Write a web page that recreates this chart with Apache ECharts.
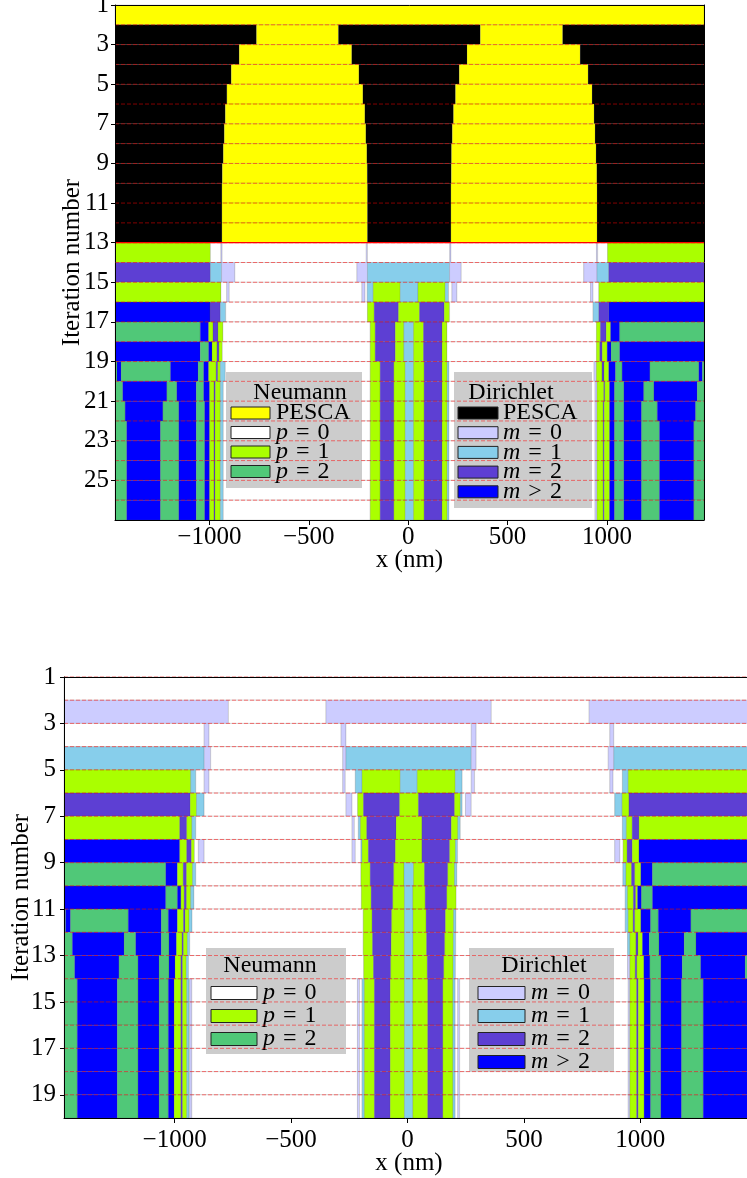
<!DOCTYPE html>
<html><head><meta charset="utf-8">
<script src="https://cdn.jsdelivr.net/npm/echarts@6/dist/echarts.min.js"></script>
<style>html,body{margin:0;padding:0;background:#fff}#c{width:747px;height:1178px}</style>
</head><body><div id="c"></div><script>
// ---------- data ----------
const X_MIN = -1475, X_MAX = 1488;
const xTicks = [-1000, -500, 0, 500, 1000];
const topYTicks = [1, 3, 5, 7, 9, 11, 13, 15, 17, 19, 21, 23, 25];
const bottomYTicks = [1, 3, 5, 7, 9, 11, 13, 15, 17, 19];
const topDashed = [2,3,4,5,6,7,8,9,10,11,12,13,14,15,16,17,18,19,20,21,22,23,24,25,26];
const topSolid = [13];
const bottomDashed = [1,2,3,4,5,6,7,8,9,10,11,12,13,14,15,16,17,18,19];
const categories = ['Y', 'K', 'p0', 'p1', 'p2', 'm0', 'm1', 'm2', 'm3'];

// each row: alternating [category, segment end x (nm)], starting at X_MIN; row k = iteration k+1
const topRows = [
 ['Y',1488],
 ['K',-763,'Y',-351,'K',363,'Y',777,'K',1488],
 ['K',-850,'Y',-284,'K',296,'Y',865,'K',1488],
 ['K',-890,'Y',-248,'K',257,'Y',905,'K',1488],
 ['K',-912,'Y',-228,'K',238,'Y',925,'K',1488],
 ['K',-920,'Y',-218,'K',228,'Y',935,'K',1488],
 ['K',-925,'Y',-213,'K',222,'Y',940,'K',1488],
 ['K',-930,'Y',-208,'K',218,'Y',945,'K',1488],
 ['K',-935,'Y',-206,'K',217,'Y',949,'K',1488],
 ['K',-937,'Y',-205,'K',215,'Y',950,'K',1488],
 ['K',-937,'Y',-205,'K',215,'Y',950,'K',1488],
 ['K',-937,'Y',-205,'K',215,'Y',950,'K',1488],
 ['p1',-995,'p0',-942,'m0',-936,'p0',-211,'m0',-205,'p0',209,'m0',215,'p0',947,'m0',953,'p0',1003,'p1',1488],
 ['m2',-995,'m1',-939,'m0',-872,'p0',-258,'m0',-205,'m1',208,'m0',267,'p0',883,'m0',950,'m1',1009,'m2',1488],
 ['p1',-942,'p0',-913,'m0',-900,'p0',-233,'m0',-217,'p0',-206,'m1',-176,'p1',-40,'m1',49,'p1',186,'m1',203,'p0',220,'m0',245,'p0',917,'m0',930,'p0',959,'p1',1488],
 ['m3',-997,'m2',-945,'m1',-918,'p0',-205,'p1',-171,'m2',-49,'p1',57,'m2',181,'p1',208,'p0',930,'m1',959,'m2',1009,'m3',1488],
 ['p2',-1046,'m3',-1004,'p1',-982,'m2',-957,'p1',-932,'p0',-191,'p1',-166,'m2',-65,'p1',-22,'m1',27,'p1',77,'m2',170,'p1',195,'p0',947,'p1',967,'m2',996,'p1',1018,'m3',1064,'p2',1488],
 ['m3',-1046,'p2',-1004,'m3',-987,'p1',-962,'m2',-952,'p1',-935,'p0',-191,'p1',-166,'m2',-65,'p1',-22,'m1',27,'p1',77,'m2',170,'p1',195,'p0',947,'p1',964,'m2',976,'p1',1001,'m3',1021,'p2',1064,'m3',1488],
 ['p2',-1465,'m3',-1444,'p2',-1196,'m3',-1057,'p2',-1029,'m3',-1004,'p1',-966,'m2',-958,'p1',-945,'m1',-920,'p0',-191,'p1',-141,'m2',-72,'p1',-15,'m1',27,'p1',80,'m2',170,'p1',196,'m1',205,'p0',935,'m0',947,'p1',975,'m2',985,'p1',1009,'m3',1043,'p2',1076,'m3',1216,'p2',1462,'m3',1480,'p2',1488],
 ['p2',-1436,'m3',-1214,'p2',-1164,'m3',-1066,'p2',-1029,'m3',-999,'p1',-977,'m2',-970,'p1',-945,'m1',-930,'p0',-191,'p1',-141,'m2',-72,'p1',-15,'m1',27,'p1',80,'m2',170,'p1',196,'m1',205,'p0',940,'m0',950,'p1',984,'m2',989,'p1',1013,'m3',1038,'p2',1085,'m3',1185,'p2',1236,'m3',1454,'p2',1488],
 ['p2',-1424,'m3',-1234,'p2',-1154,'m3',-1066,'p2',-1024,'m3',-999,'p1',-977,'m2',-972,'p1',-945,'m1',-930,'p0',-191,'p1',-141,'m2',-72,'p1',-15,'m1',27,'p1',80,'m2',170,'p1',196,'m1',205,'p0',940,'m0',950,'p1',981,'m2',986,'p1',1013,'m3',1038,'p2',1085,'m3',1174,'p2',1253,'m3',1446,'p2',1488],
 ['p2',-1416,'m3',-1246,'p2',-1154,'m3',-1066,'p2',-1024,'m3',-999,'p1',-977,'m2',-972,'p1',-945,'m1',-930,'p0',-191,'p1',-141,'m2',-72,'p1',-15,'m1',27,'p1',80,'m2',170,'p1',196,'m1',205,'p0',940,'m0',950,'p1',981,'m2',986,'p1',1013,'m3',1038,'p2',1085,'m3',1174,'p2',1264,'m3',1437,'p2',1488],
 ['p2',-1416,'m3',-1246,'p2',-1154,'m3',-1066,'p2',-1024,'m3',-999,'p1',-977,'m2',-972,'p1',-945,'m1',-930,'p0',-191,'p1',-141,'m2',-72,'p1',-15,'m1',27,'p1',80,'m2',170,'p1',196,'m1',205,'p0',940,'m0',950,'p1',981,'m2',986,'p1',1013,'m3',1038,'p2',1085,'m3',1174,'p2',1264,'m3',1437,'p2',1488],
 ['p2',-1416,'m3',-1246,'p2',-1154,'m3',-1066,'p2',-1024,'m3',-999,'p1',-977,'m2',-972,'p1',-945,'m1',-930,'p0',-191,'p1',-141,'m2',-72,'p1',-15,'m1',27,'p1',80,'m2',170,'p1',196,'m1',205,'p0',940,'m0',950,'p1',981,'m2',986,'p1',1013,'m3',1038,'p2',1085,'m3',1174,'p2',1264,'m3',1437,'p2',1488],
 ['p2',-1416,'m3',-1246,'p2',-1154,'m3',-1066,'p2',-1024,'m3',-999,'p1',-977,'m2',-972,'p1',-945,'m1',-930,'p0',-191,'p1',-141,'m2',-72,'p1',-15,'m1',27,'p1',80,'m2',170,'p1',196,'m1',205,'p0',940,'m0',950,'p1',981,'m2',986,'p1',1013,'m3',1038,'p2',1085,'m3',1174,'p2',1264,'m3',1437,'p2',1488],
 ['p2',-1416,'m3',-1246,'p2',-1154,'m3',-1066,'p2',-1024,'m3',-999,'p1',-977,'m2',-972,'p1',-945,'m1',-930,'p0',-191,'p1',-141,'m2',-72,'p1',-15,'m1',27,'p1',80,'m2',170,'p1',196,'m1',205,'p0',940,'m0',950,'p1',981,'m2',986,'p1',1013,'m3',1038,'p2',1085,'m3',1174,'p2',1264,'m3',1437,'p2',1488]
];

const bottomRows = [
 ['p0',1488],
 ['m0',-769,'p0',-350,'m0',360,'p0',780,'m0',1488],
 ['p0',-873,'m0',-852,'p0',-285,'m0',-264,'p0',274,'m0',295,'p0',869,'m0',886,'p0',1488],
 ['m1',-873,'m0',-845,'p0',-278,'m0',-264,'m1',274,'m0',295,'p0',862,'m0',886,'m1',1488],
 ['p1',-931,'m1',-909,'p0',-873,'m0',-852,'p0',-278,'m0',-267,'p0',-224,'m1',-195,'p1',-31,'m1',42,'p1',205,'m1',235,'p0',274,'m0',288,'p0',869,'m0',883,'p0',923,'m1',948,'p1',1488],
 ['m2',-933,'p1',-906,'m1',-873,'p0',-264,'m0',-238,'p0',-214,'p1',-189,'m2',-34,'p1',47,'m2',202,'p1',227,'m1',235,'p0',249,'m0',274,'p0',890,'m1',922,'p1',951,'m2',1488],
 ['p1',-978,'m2',-948,'p1',-926,'m1',-909,'p0',-238,'m0',-228,'p0',-211,'m1',-202,'p1',-175,'m2',-49,'p1',62,'m2',188,'p1',216,'m1',227,'p0',923,'m1',940,'p1',965,'m2',994,'p1',1488],
 ['m3',-978,'p1',-948,'m2',-928,'p1',-915,'p0',-898,'m0',-873,'p0',-238,'m0',-224,'p0',-200,'m1',-195,'p1',-168,'m2',-52,'p1',62,'m2',181,'p1',206,'m1',215,'p0',890,'m0',912,'p0',926,'p1',943,'m2',965,'p1',994,'m3',1488],
 ['p2',-1038,'m3',-988,'p1',-963,'m2',-949,'p1',-923,'m1',-909,'p0',-200,'p1',-160,'m2',-59,'p1',-15,'m1',26,'p1',73,'m2',173,'p1',202,'m1',212,'p0',925,'m1',938,'p1',962,'m2',976,'p1',1002,'m3',1052,'p2',1488],
 ['m3',-1038,'p2',-988,'m3',-973,'p1',-959,'m2',-949,'p1',-931,'m1',-917,'p0',-198,'p1',-156,'m2',-63,'p1',-13,'m1',23,'p1',76,'m2',169,'p1',209,'p0',935,'m1',945,'p1',970,'m2',980,'p1',988,'m3',1005,'p2',1052,'m3',1488],
 ['p2',-1468,'m3',-1447,'p2',-1199,'m3',-1057,'p2',-1027,'m3',-988,'p1',-962,'m2',-955,'p1',-938,'m1',-925,'p0',-190,'p1',-152,'m2',-68,'p1',-13,'m1',24,'p1',80,'m2',163,'p1',198,'m1',208,'p0',935,'m1',948,'p1',969,'m2',976,'p1',1002,'m3',1044,'p2',1077,'m3',1217,'p2',1488],
 ['p2',-1439,'m3',-1217,'p2',-1167,'m3',-1057,'p2',-1024,'m3',-992,'p1',-968,'m2',-962,'p1',-945,'m1',-935,'p0',-190,'p1',-150,'m2',-70,'p1',-13,'m1',24,'p1',82,'m2',160,'p1',197,'m1',207,'p0',945,'m1',955,'p1',981,'m2',990,'p1',1009,'m3',1038,'p2',1080,'m3',1188,'p2',1239,'m3',1488],
 ['p2',-1429,'m3',-1239,'p2',-1157,'m3',-1067,'p2',-1024,'m3',-998,'p1',-973,'m2',-966,'p1',-950,'m1',-940,'p0',-188,'p1',-146,'m2',-72,'p1',-13,'m1',23,'p1',85,'m2',156,'p1',196,'m1',206,'p0',945,'m0',955,'p1',978,'m2',985,'p1',1015,'m3',1041,'p2',1088,'m3',1180,'p2',1259,'m3',1450,'p2',1488],
 ['p2',-1418,'m3',-1246,'p2',-1157,'m3',-1067,'p2',-1027,'m3',-1002,'p1',-973,'m2',-966,'p1',-948,'m1',-938,'p0',-935,'m0',-926,'p0',-215,'m0',-206,'p0',-195,'m1',-185,'p1',-142,'m2',-74,'p1',-13,'m1',23,'p1',87,'m2',152,'p1',195,'m1',205,'p0',216,'m0',224,'p0',948,'m0',955,'p1',984,'m2',991,'p1',1016,'m3',1044,'p2',1088,'m3',1177,'p2',1270,'m3',1488],
 ['p2',-1418,'m3',-1246,'p2',-1157,'m3',-1067,'p2',-1027,'m3',-1002,'p1',-973,'m2',-966,'p1',-948,'m1',-938,'p0',-935,'m0',-926,'p0',-215,'m0',-206,'p0',-195,'m1',-185,'p1',-142,'m2',-74,'p1',-13,'m1',23,'p1',87,'m2',152,'p1',195,'m1',205,'p0',216,'m0',224,'p0',948,'m0',955,'p1',984,'m2',991,'p1',1016,'m3',1044,'p2',1088,'m3',1177,'p2',1270,'m3',1488],
 ['p2',-1418,'m3',-1246,'p2',-1157,'m3',-1067,'p2',-1027,'m3',-1002,'p1',-973,'m2',-966,'p1',-948,'m1',-938,'p0',-935,'m0',-926,'p0',-215,'m0',-206,'p0',-195,'m1',-185,'p1',-142,'m2',-74,'p1',-13,'m1',23,'p1',87,'m2',152,'p1',195,'m1',205,'p0',216,'m0',224,'p0',948,'m0',955,'p1',984,'m2',991,'p1',1016,'m3',1044,'p2',1088,'m3',1177,'p2',1270,'m3',1488],
 ['p2',-1418,'m3',-1246,'p2',-1157,'m3',-1067,'p2',-1027,'m3',-1002,'p1',-973,'m2',-966,'p1',-948,'m1',-938,'p0',-935,'m0',-926,'p0',-215,'m0',-206,'p0',-195,'m1',-185,'p1',-142,'m2',-74,'p1',-13,'m1',23,'p1',87,'m2',152,'p1',195,'m1',205,'p0',216,'m0',224,'p0',948,'m0',955,'p1',984,'m2',991,'p1',1016,'m3',1044,'p2',1088,'m3',1177,'p2',1270,'m3',1488],
 ['p2',-1418,'m3',-1246,'p2',-1157,'m3',-1067,'p2',-1027,'m3',-1002,'p1',-973,'m2',-966,'p1',-948,'m1',-938,'p0',-935,'m0',-926,'p0',-215,'m0',-206,'p0',-195,'m1',-185,'p1',-142,'m2',-74,'p1',-13,'m1',23,'p1',87,'m2',152,'p1',195,'m1',205,'p0',216,'m0',224,'p0',948,'m0',955,'p1',984,'m2',991,'p1',1016,'m3',1044,'p2',1088,'m3',1177,'p2',1270,'m3',1488],
 ['p2',-1418,'m3',-1246,'p2',-1157,'m3',-1067,'p2',-1027,'m3',-1002,'p1',-973,'m2',-966,'p1',-948,'m1',-938,'p0',-935,'m0',-926,'p0',-215,'m0',-206,'p0',-195,'m1',-185,'p1',-142,'m2',-74,'p1',-13,'m1',23,'p1',87,'m2',152,'p1',195,'m1',205,'p0',216,'m0',224,'p0',948,'m0',955,'p1',984,'m2',991,'p1',1016,'m3',1044,'p2',1088,'m3',1177,'p2',1270,'m3',1488]
];

const neumannTopItems = [['Y','PESCA'], ['p0','p|0|='], ['p1','p|1|='], ['p2','p|2|=']];
const dirichletTopItems = [['K','PESCA'], ['m0','m|0|='], ['m1','m|1|='], ['m2','m|2|='], ['m3','m|2|>']];
const neumannBottomItems = [['p0','p|0|='], ['p1','p|1|='], ['p2','p|2|=']];
const dirichletBottomItems = [['m0','m|0|='], ['m1','m|1|='], ['m2','m|2|='], ['m3','m|2|>']];

// ---------- styling ----------
const COLORS = { Y:'#ffff00', K:'#000000', p0:'#ffffff', p1:'#aaff00', p2:'#50c878',
  m0:'#ccccff', m1:'#87ceeb', m2:'#5d3fd3', m3:'#0000ff' };
const FONT = 'Liberation Serif';

function rowsToData(rows) {
  const out = [];
  rows.forEach((row, k) => {
    let start = X_MIN;
    for (let i = 0; i < row.length; i += 2) {
      const end = row[i + 1];
      out.push([start, end, k + 1, categories.indexOf(row[i])]);
      start = end;
    }
  });
  return out;
}

function renderBar(params, api) {
  const a = api.coord([api.value(0), api.value(2)]);
  const b = api.coord([api.value(1), api.value(2) + 1]);
  const cat = categories[api.value(3)];
  return { type: 'rect',
    shape: { x: a[0], y: a[1], width: b[0] - a[0], height: b[1] - a[1] },
    style: { fill: COLORS[cat], stroke: cat === 'K' ? null : 'rgba(70,70,70,0.28)', lineWidth: 0.6 } };
}
function lineRenderer(style) {
  return function (params, api) {
    const a = api.coord([api.value(0), api.value(2)]);
    const b = api.coord([api.value(1), api.value(2)]);
    return { type: 'line', shape: { x1: a[0], y1: a[1], x2: b[0], y2: b[1] }, style: style };
  };
}
const dashStyle = { stroke: 'rgba(255,0,0,0.5)', lineWidth: 1, lineDash: [4, 2] };
const solidStyle = { stroke: '#ff0000', lineWidth: 1.2 };

const fmtX = v => v < 0 ? '\u2212' + Math.abs(v) : String(v);

function xAxisMain(grid, labelMargin, nameGap) {
  return { type: 'value', gridIndex: grid, min: X_MIN, max: X_MAX, z: 30,
    name: 'x (nm)', nameLocation: 'middle', nameGap: nameGap, nameMoveOverlap: false,
    nameTextStyle: { fontFamily: FONT, fontSize: 25, color: '#000' },
    axisLine: { show: true, onZero: false, lineStyle: { color: '#000', width: 1 } },
    axisTick: { show: true, length: 5, customValues: xTicks, lineStyle: { color: '#000' } },
    axisLabel: { customValues: xTicks, formatter: fmtX, fontFamily: FONT, fontSize: 25, color: '#000', margin: labelMargin },
    splitLine: { show: false } };
}
function frameX(grid) {
  return { type: 'value', gridIndex: grid, position: 'top', min: X_MIN, max: X_MAX, z: 30,
    axisLine: { show: true, onZero: false, lineStyle: { color: '#000', width: 1 } },
    axisTick: { show: false }, axisLabel: { show: false }, splitLine: { show: false } };
}
function yAxisMain(grid, max, ticks, margin) {
  return { type: 'value', gridIndex: grid, inverse: true, min: 1, max: max, z: 30,
    name: 'Iteration number', nameLocation: 'middle', nameGap: 30, nameRotate: 90, nameMoveOverlap: false,
    nameTextStyle: { fontFamily: FONT, fontSize: 25, color: '#000' },
    axisLine: { show: true, onZero: false, lineStyle: { color: '#000', width: 1 } },
    axisTick: { show: true, length: 4, customValues: ticks, lineStyle: { color: '#000' } },
    axisLabel: { customValues: ticks, fontFamily: FONT, fontSize: 25, color: '#000', margin: margin },
    splitLine: { show: false } };
}
function frameY(grid, max) {
  return { type: 'value', gridIndex: grid, position: 'right', inverse: true, min: 1, max: max, z: 30,
    axisLine: { show: true, onZero: false, lineStyle: { color: '#000', width: 1 } },
    axisTick: { show: false }, axisLabel: { show: false }, splitLine: { show: false } };
}

// ---------- legends (graphic) ----------
function legendGraphic(box, title, items, sw, rowY, textX, fontSize) {
  const els = [];
  els.push({ type: 'rect', z: 10, silent: true,
    shape: { x: box[0], y: box[1], width: box[2], height: box[3] },
    style: { fill: '#cccccc' } });
  els.push({ type: 'text', z: 11, silent: true, x: title[1], y: title[2],
    style: { text: title[0], fontFamily: FONT, fontSize: fontSize, fill: '#000', align: 'center', verticalAlign: 'middle' } });
  items.forEach((it, i) => {
    const cy = rowY[0] + i * rowY[1];
    els.push({ type: 'rect', z: 11, silent: true,
      shape: { x: sw[0], y: cy - sw[2] / 2, width: sw[1], height: sw[2] },
      style: { fill: COLORS[it[0]], stroke: '#222', lineWidth: 1 } });
    let txt;
    if (it[1].indexOf('|') >= 0) {
      const parts = it[1].split('|');
      txt = '{i|' + parts[0] + '}{r|\u2004' + parts[2] + '\u2004' + parts[1] + '}';
    } else {
      txt = '{r|' + it[1] + '}';
    }
    els.push({ type: 'text', z: 11, silent: true, x: textX, y: cy,
      style: { text: txt, align: 'left', verticalAlign: 'middle',
        rich: { i: { fontFamily: FONT, fontStyle: 'italic', fontSize: fontSize, fill: '#000' },
                r: { fontFamily: FONT, fontSize: fontSize, fill: '#000' } } } });
  });
  return els;
}

const graphics = [].concat(
  legendGraphic([226, 372, 136, 116], ['Neumann', 300, 393], neumannTopItems, [231, 39, 12], [413, 19.5], 276, 24),
  legendGraphic([454, 372, 138, 136], ['Dirichlet', 511, 393], dirichletTopItems, [458, 40, 12], [413, 19.7], 503, 24),
  legendGraphic([206, 948, 140, 106], ['Neumann', 270, 966], neumannBottomItems, [211, 46, 13], [993, 23], 263, 24),
  legendGraphic([469, 948, 145, 124], ['Dirichlet', 544, 966], dirichletBottomItems, [478, 47, 13], [993, 23], 531, 24)
);

const chart = echarts.init(document.getElementById('c'), null, { renderer: 'canvas' });
chart.setOption({
  animation: false,
  backgroundColor: '#ffffff',
  grid: [
    { left: 115, top: 5, width: 589, height: 515, containLabel: false, outerBoundsMode: 'none' },
    { left: 64, top: 677, width: 690, height: 441, containLabel: false, outerBoundsMode: 'none' }
  ],
  xAxis: [xAxisMain(0, 5, 28), frameX(0), xAxisMain(1, 10, 33), frameX(1)],
  yAxis: [yAxisMain(0, 27, topYTicks, 6), frameY(0, 27), yAxisMain(1, 20, bottomYTicks, 8), frameY(1, 20)],
  graphic: { elements: graphics },
  series: [
    { type: 'custom', name: 'top', xAxisIndex: 0, yAxisIndex: 0, z: 2, silent: true,
      renderItem: renderBar, encode: { x: [0, 1], y: 2 }, data: rowsToData(topRows) },
    { type: 'custom', name: 'topDash', xAxisIndex: 0, yAxisIndex: 0, z: 20, silent: true,
      renderItem: lineRenderer(dashStyle), encode: { x: [0, 1], y: 2 },
      data: topDashed.map(y => [X_MIN, X_MAX, y]) },
    { type: 'custom', name: 'topSolid', xAxisIndex: 0, yAxisIndex: 0, z: 21, silent: true,
      renderItem: lineRenderer(solidStyle), encode: { x: [0, 1], y: 2 },
      data: topSolid.map(y => [X_MIN, X_MAX, y]) },
    { type: 'custom', name: 'bottom', xAxisIndex: 2, yAxisIndex: 2, z: 2, silent: true,
      renderItem: renderBar, encode: { x: [0, 1], y: 2 }, data: rowsToData(bottomRows) },
    { type: 'custom', name: 'bottomDash', xAxisIndex: 2, yAxisIndex: 2, z: 20, silent: true,
      renderItem: lineRenderer(dashStyle), encode: { x: [0, 1], y: 2 },
      data: bottomDashed.map(y => [X_MIN, X_MAX, y]) }
  ]
});
</script></body></html>
